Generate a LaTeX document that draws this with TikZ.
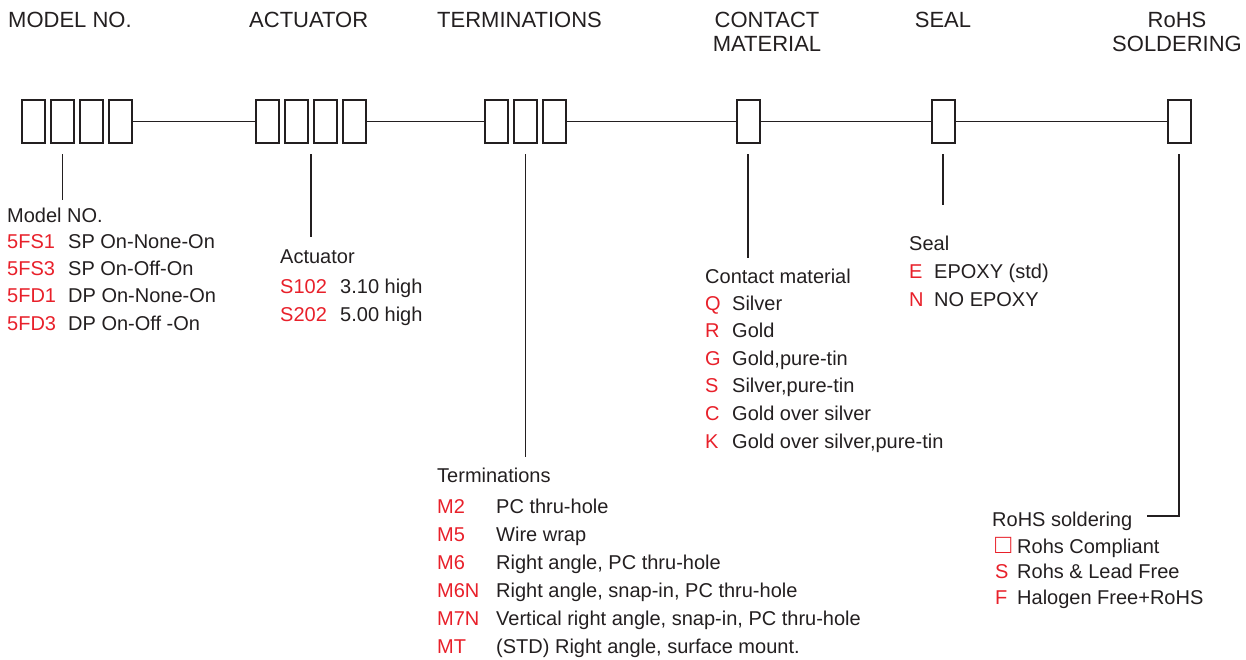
\documentclass[tikz,border=0pt]{standalone}
\usepackage{fontspec}
\setmainfont{Liberation Sans}
\usepackage{xcolor}
\usepackage{tikz}
\usetikzlibrary{calc}
\definecolor{ink}{HTML}{231F20}
\definecolor{codered}{HTML}{E8202A}
\tikzset{
  cell/.style={draw=ink, line width=2pt, minimum width=23pt, minimum height=43pt, inner sep=0pt},
  link/.style={draw=ink, line width=1.9pt},
  drop/.style={draw=ink, line width=1.4pt},
  head/.style={text=ink, font=\fontsize{22}{24}\selectfont, inner sep=0pt},
  title/.style={text=ink, font=\fontsize{20}{22}\selectfont, anchor=base west, inner sep=0pt},
  code/.style={text=codered, font=\fontsize{20}{22}\selectfont, anchor=base west, inner sep=0pt},
  desc/.style={text=ink, font=\fontsize{20}{22}\selectfont, anchor=base west, inner sep=0pt}
}

\begin{document}
\begin{tikzpicture}[x=1pt,y=-1pt]
  \useasboundingbox (0,0) rectangle (1246,659);

  % headings
  \node[head, anchor=base west] (hmod) at (8,27) {MODEL NO.};
  \node[head, anchor=base west] (hact) at (249,27) {ACTUATOR};
  \node[head, anchor=base west] (hter) at (437,27) {TERMINATIONS};
  \node[head, anchor=base] (hcon) at (767,27) {CONTACT};
  \node[head, anchor=base] (hmat) at (767,51) {MATERIAL};
  \node[head, anchor=base] (hsea) at (943,27) {SEAL};
  \node[head, anchor=base] (hroh) at (1177,27) {RoHS};
  \node[head, anchor=base] (hsol) at (1177,51) {SOLDERING};

  % part number boxes
  \foreach \i in {1,...,4} {
    \node[cell] (mod\i) at ({33.5+29*(\i-1)},121.5) {};
    \node[cell] (act\i) at ({267.5+29*(\i-1)},121.5) {};
  }
  \foreach \i in {1,...,3}
    \node[cell] (ter\i) at ({496.5+29*(\i-1)},121.5) {};
  \node[cell] (con) at (748,121.5) {};
  \node[cell] (sea) at (943,121.5) {};
  \node[cell] (roh) at (1179,121.5) {};

  \draw[link] (mod4) -- (act1);
  \draw[link] (act4) -- (ter1);
  \draw[link] (ter3) -- (con);
  \draw[link] (con) -- (sea);
  \draw[link] (sea) -- (roh);

  % leader lines
  \coordinate (modend) at (62.5,200);
  \coordinate (actend) at (311,237);
  \coordinate (terend) at (525.5,457);
  \coordinate (conend) at (748,258);
  \coordinate (seaend) at (943,205);
  \coordinate (rohend) at (1147,516);
  \draw[drop] ([yshift=-10pt]mod2.south) -- (modend);
  \draw[drop] ([yshift=-10pt]$(act2.south)!.5!(act3.south)$) -- (actend);
  \draw[drop] ([yshift=-10pt]ter2.south) -- (terend);
  \draw[drop] ([yshift=-10pt]con.south) -- (conend);
  \draw[drop] ([yshift=-10pt]sea.south) -- (seaend);
  \draw[drop] ([yshift=-10pt]roh.south) |- (rohend);

  % model no.
  \node[title] (tmod) at (7,222) {Model NO.};
  \foreach \c/\d [count=\i from 0] in {5FS1/SP On-None-On, 5FS3/SP On-Off-On,
      5FD1/DP On-None-On, 5FD3/DP On-Off -On} {
    \node[code] (mc\i) at (7,{248+27.4*\i}) {\c};
    \node[desc] (md\i) at (68,{248+27.4*\i}) {\d};
  }

  % actuator
  \node[title] (tact) at (280,263) {Actuator};
  \foreach \c/\d [count=\i from 0] in {S102/3.10 high, S202/5.00 high} {
    \node[code] (ac\i) at (280,{293+28.5*\i}) {\c};
    \node[desc] (ad\i) at (340,{293+28.5*\i}) {\d};
  }

  % terminations
  \node[title] (tter) at (437,482) {Terminations};
  \foreach \c/\d [count=\i from 0] in {M2/PC thru-hole, M5/Wire wrap,
      M6/{Right angle, PC thru-hole}, M6N/{Right angle, snap-in, PC thru-hole},
      M7N/{Vertical right angle, snap-in, PC thru-hole},
      MT/{(STD) Right angle, surface mount.}} {
    \node[code] (tc\i) at (437,{513+28*\i}) {\c};
    \node[desc] (td\i) at (496,{513+28*\i}) {\d};
  }

  % contact material
  \node[title] (tcon) at (705,283) {Contact material};
  \foreach \c/\d [count=\i from 0] in {Q/Silver, R/Gold, G/{Gold,pure-tin},
      S/{Silver,pure-tin}, C/Gold over silver, K/{Gold over silver,pure-tin}} {
    \node[code] (cc\i) at (705,{310+27.6*\i}) {\c};
    \node[desc] (cd\i) at (732,{310+27.6*\i}) {\d};
  }

  % seal
  \node[title] (tsea) at (909,250) {Seal};
  \foreach \c/\d [count=\i from 0] in {E/EPOXY (std), N/NO EPOXY} {
    \node[code] (sc\i) at (909,{278+28*\i}) {\c};
    \node[desc] (sd\i) at (934,{278+28*\i}) {\d};
  }

  % rohs soldering
  \node[title] (troh) at (992,526) {RoHS soldering};
  \foreach \c/\d [count=\i from 0] in {{\scalebox{1.35}{□}}/Rohs Compliant,
      S/Rohs \& Lead Free, F/Halogen Free+RoHS} {
    \node[code] (rc\i) at (995,{553+25.5*\i}) {\c};
    \node[desc] (rd\i) at (1017,{553+25.5*\i}) {\d};
  }
\end{tikzpicture}
\end{document}
